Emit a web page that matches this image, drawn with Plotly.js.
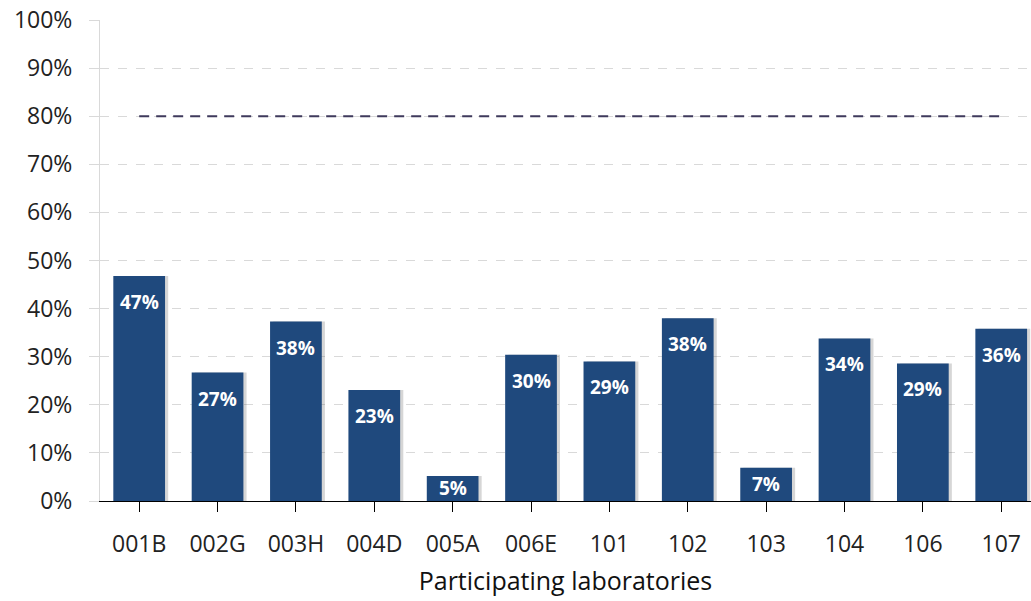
<!DOCTYPE html>
<html>
<head>
<meta charset="utf-8">
<script src="https://cdn.plot.ly/plotly-3.0.1.min.js"></script>
<style>html,body{margin:0;padding:0;background:#fff;}#chart{width:1031px;height:601px;}</style>
</head>
<body>
<div id="chart"></div>
<script>
var labs = ['001B','002G','003H','004D','005A','006E','101','102','103','104','106','107'];
var values = [46.8, 26.7, 37.3, 23.1, 5.2, 30.4, 29.0, 38.0, 6.9, 33.8, 28.6, 35.8];
var valueLabels = ['47%','27%','38%','23%','5%','30%','29%','38%','7%','34%','29%','36%'];
var targetLevel = 80;
var yTicks = [0,10,20,30,40,50,60,70,80,90,100];
var yTickText = ['0%','10%','20%','30%','40%','50%','60%','70%','80%','90%','100%'];

var FONT = 'Open Sans, sans-serif';
var idx = labs.map(function(_, i){ return i; });

var shadow = {
  type: 'bar', x: idx, y: values,
  width: 0.66, offset: -0.29,
  marker: {color: 'rgba(90,90,90,0.25)', line: {width: 0}},
  hoverinfo: 'skip', showlegend: false
};
var bars = {
  type: 'bar', x: idx, y: values,
  width: 0.66, offset: -0.33,
  marker: {color: '#1f497d', line: {width: 0}},
  showlegend: false
};
var target = {
  type: 'scatter', mode: 'lines',
  x: [idx[0], idx[idx.length-1]], y: [targetLevel, targetLevel],
  line: {color: '#3f3a5c', width: 2, dash: '10px,7px'},
  showlegend: false, hoverinfo: 'skip'
};

var annotations = values.map(function(v, i){
  return {
    x: i, y: Math.max(v - 5.4, v / 2), xref: 'x', yref: 'y',
    text: '<b>' + valueLabels[i] + '</b>', showarrow: false,
    font: {family: FONT, size: 19, color: '#ffffff'},
    xanchor: 'center', yanchor: 'middle'
  };
});

var layout = {
  width: 1031, height: 601,
  margin: {l: 100, r: 0, t: 20, b: 100},
  paper_bgcolor: '#ffffff', plot_bgcolor: '#ffffff',
  barmode: 'overlay',
  font: {family: FONT, color: '#222222'},
  xaxis: {
    range: [-0.5, 11.38],
    tickvals: idx, ticktext: labs,
    tickson: 'boundaries',
    ticks: 'outside', ticklen: 10, tickcolor: '#000000', tickwidth: 1,
    ticklabelstandoff: 12,
    showline: true, linecolor: '#000000', linewidth: 1,
    showgrid: false, zeroline: false,
    tickfont: {family: FONT, size: 23, color: '#222222'},
    title: {text: 'Participating laboratories', font: {family: FONT, size: 25, color: '#111111'}, standoff: 14},
    fixedrange: true
  },
  yaxis: {
    range: [0, 100],
    tickvals: yTicks, ticktext: yTickText,
    ticks: 'outside', ticklen: 10, tickcolor: '#d9d9d9',
    ticklabelstandoff: 12,
    showline: true, linecolor: '#d9d9d9', linewidth: 1,
    showgrid: true, gridcolor: '#d9d9d9', griddash: 'dash', gridwidth: 1,
    zeroline: false,
    tickfont: {family: FONT, size: 23, color: '#222222'},
    fixedrange: true
  },
  annotations: annotations
};

Plotly.newPlot('chart', [shadow, bars, target], layout, {displayModeBar: false, staticPlot: true});
</script>
</body>
</html>
